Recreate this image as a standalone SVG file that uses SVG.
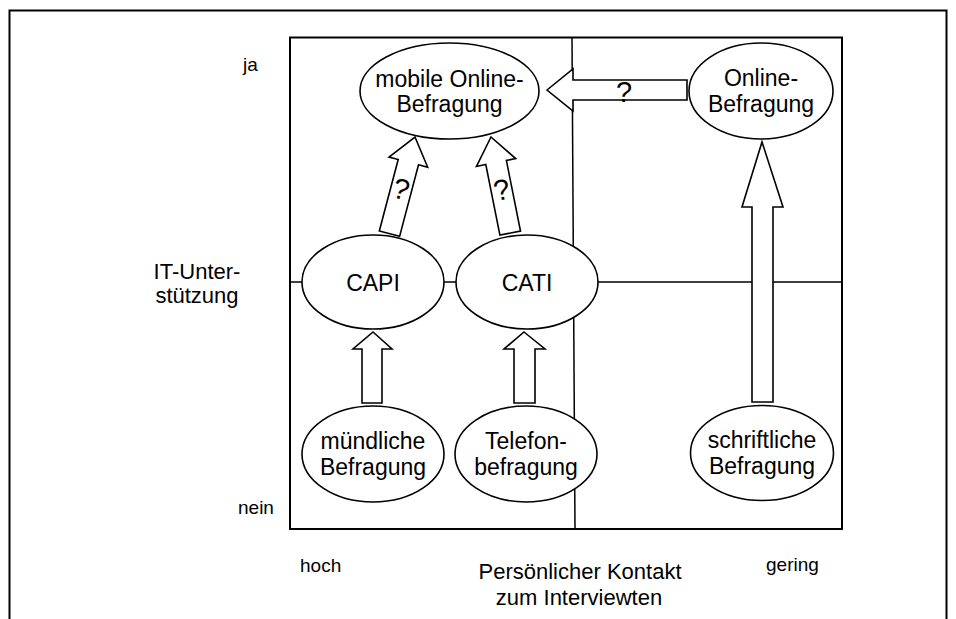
<svg xmlns="http://www.w3.org/2000/svg" width="956" height="619" viewBox="0 0 956 619">
  <style>
    text { font-family: "Liberation Sans", Arial, sans-serif; fill: #000; }
    .node text { font-size: 23px; text-anchor: middle; }
    .node ellipse { fill: #fff; stroke: #000; stroke-width: 1.6; }
    .arrow { fill: #fff; stroke: #000; stroke-width: 1.6; stroke-linejoin: miter; }
    .q { font-size: 29px; text-anchor: middle; }
    .axis { font-size: 19px; }
    .title { font-size: 22px; text-anchor: middle; }
    .grid { fill: none; stroke: #000; stroke-width: 1.5; }
  </style>

  <rect width="956" height="619" fill="#fff"/>

  <!-- outer frame -->
  <path d="M9.5,619 V10.5 H946.5 V619" fill="none" stroke="#000" stroke-width="2"/>

  <!-- matrix frame and quadrant dividers -->
  <g id="matrix">
    <rect x="290" y="37.5" width="552" height="491.5" fill="none" stroke="#000" stroke-width="2"/>
    <line class="grid" x1="572" y1="38" x2="575" y2="529"/>
    <line class="grid" x1="290" y1="282" x2="842" y2="282"/>
  </g>

  <!-- axis labels -->
  <g id="axis-labels">
    <text class="axis" x="243" y="71">ja</text>
    <text class="axis" x="238" y="514">nein</text>
    <text class="title" x="197" y="279">IT-Unter-</text>
    <text class="title" x="197" y="303">stützung</text>
    <text class="axis" x="300" y="572">hoch</text>
    <text class="axis" x="766" y="571">gering</text>
    <text class="title" x="580" y="579">Persönlicher Kontakt</text>
    <text class="title" x="579" y="605">zum Interviewten</text>
  </g>

  <!-- block arrows between survey methods -->
  <g id="connectors">
    <polygon class="arrow" points="547,90 573,69 573,80 687,80 687,100 573,100 573,111"/>
    <text class="q" x="624" y="102">?</text>

    <polygon class="arrow" points="762,142 783,207 773,207 773,402 752,402 752,207 742,207"/>

    <polygon class="arrow" points="373,332 392,349 382,349 382,403 362,403 362,349 353,349"/>
    <polygon class="arrow" points="524,332 545,349 535,349 535,403 514,403 514,349 504,349"/>

    <g transform="translate(415,137) rotate(14.8)">
      <polygon class="arrow" points="0,0 20,26 10.5,26 10.5,100 -10.5,100 -10.5,26 -20,26"/>
      <text class="q" x="0" y="64">?</text>
    </g>
    <g transform="translate(491,137) rotate(-11.3)">
      <polygon class="arrow" points="0,0 20,26 10.5,26 10.5,98 -10.5,98 -10.5,26 -20,26"/>
      <text class="q" x="0" y="64">?</text>
    </g>
  </g>

  <!-- survey method nodes -->
  <g id="mobile-online" class="node">
    <ellipse cx="449.5" cy="91" rx="89.5" ry="48"/>
    <text x="449.5" y="87">mobile Online-</text>
    <text x="449.5" y="112">Befragung</text>
  </g>
  <g id="online" class="node">
    <ellipse cx="761" cy="91" rx="72" ry="48"/>
    <text x="761" y="86">Online-</text>
    <text x="761" y="112">Befragung</text>
  </g>
  <g id="capi" class="node">
    <ellipse cx="373" cy="282" rx="71" ry="47"/>
    <text x="373" y="291">CAPI</text>
  </g>
  <g id="cati" class="node">
    <ellipse cx="527" cy="282" rx="71" ry="47"/>
    <text x="527" y="291">CATI</text>
  </g>
  <g id="muendlich" class="node">
    <ellipse cx="373" cy="454" rx="71" ry="48"/>
    <text x="373" y="449">mündliche</text>
    <text x="373" y="475">Befragung</text>
  </g>
  <g id="telefon" class="node">
    <ellipse cx="526" cy="454" rx="71" ry="48"/>
    <text x="526" y="449">Telefon-</text>
    <text x="526" y="475">befragung</text>
  </g>
  <g id="schriftlich" class="node">
    <ellipse cx="762" cy="453" rx="71.5" ry="47.5"/>
    <text x="762" y="448">schriftliche</text>
    <text x="762" y="474">Befragung</text>
  </g>
</svg>
